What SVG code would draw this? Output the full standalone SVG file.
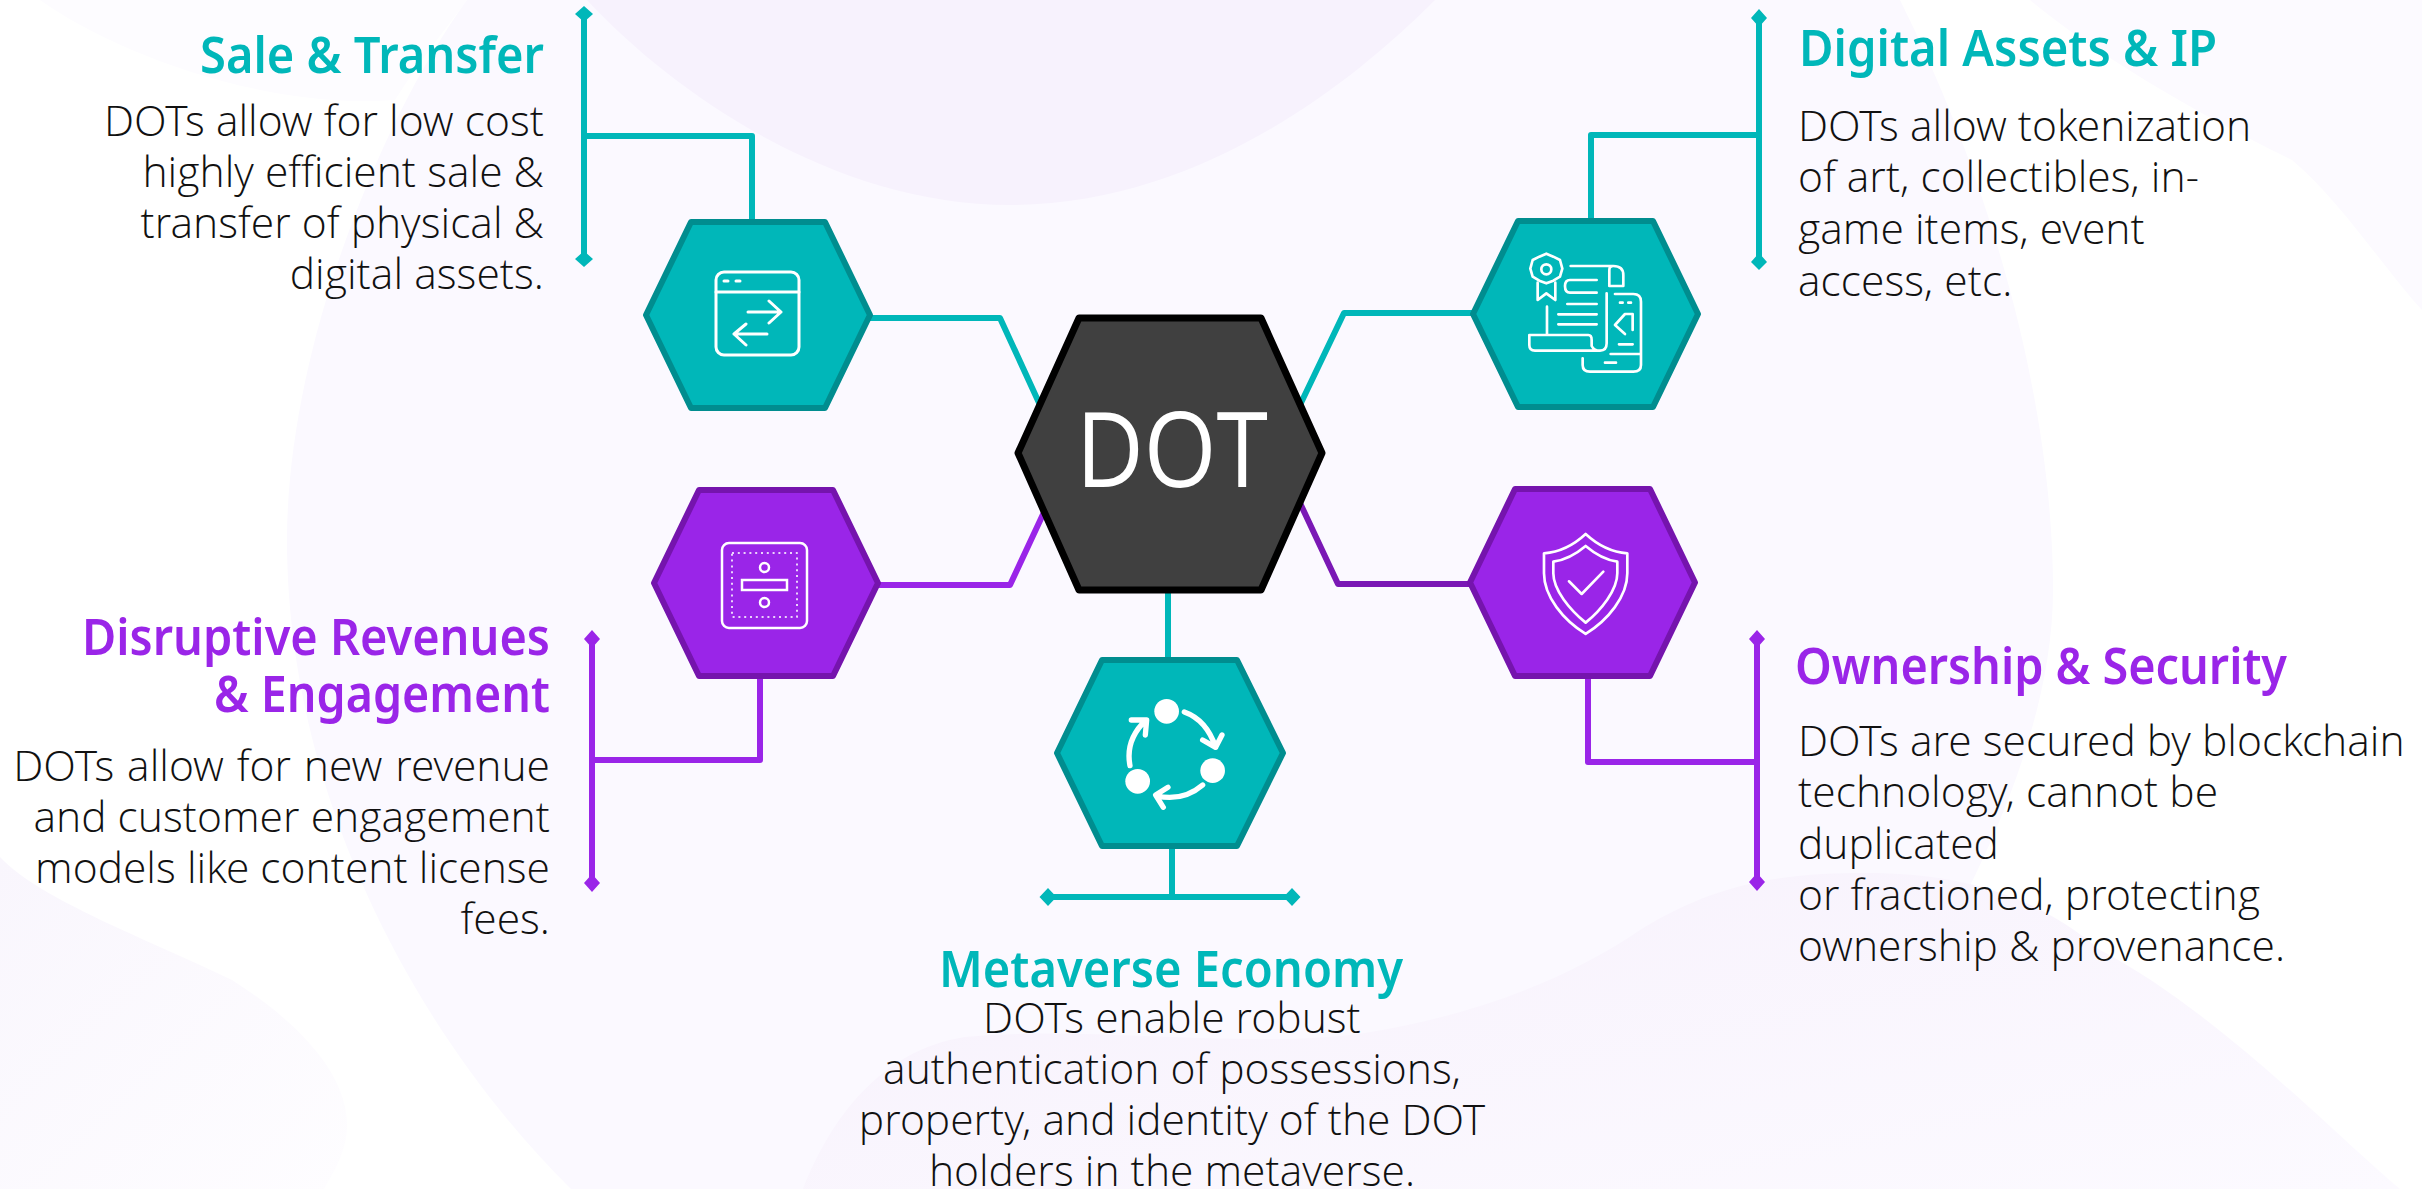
<svg xmlns="http://www.w3.org/2000/svg" width="2422" height="1189" viewBox="0 0 2422 1189">
<style>
.t{font-family:"Noto Sans","Open Sans",sans-serif;font-weight:600;font-size:50px}
.b{font-family:"Open Sans Light","Open Sans",sans-serif;font-weight:300;font-size:42.600px;fill:#111}
.teal{fill:#00b7b9}.purple{fill:#9a25e8}
.ht{fill:#00b7b9;stroke:#008d8f;stroke-width:6;stroke-linejoin:round}
.hp{fill:#9a25e8;stroke:#7514ad;stroke-width:6;stroke-linejoin:round}
.ct{fill:none;stroke:#00b7b9;stroke-width:6;stroke-linejoin:round}
.cp{fill:none;stroke:#9a25e8;stroke-width:6;stroke-linejoin:round}
.cd{fill:none;stroke:#7a18b5;stroke-width:6;stroke-linejoin:round}
.i{fill:none;stroke:#fff;stroke-width:3;stroke-linecap:round;stroke-linejoin:round}
.z{fill:none;stroke:#fff;stroke-width:8;stroke-linecap:round;stroke-linejoin:round}
.r{text-anchor:end}.m{text-anchor:middle}
</style>
<defs>
<linearGradient id="fa" x1="0" y1="0" x2="1" y2="1"><stop offset="0" stop-color="#f7f1fc"/><stop offset="1" stop-color="#fcfaff"/></linearGradient>
<linearGradient id="fb" x1="0" y1="0" x2="1" y2="1"><stop offset="0" stop-color="#f9f6fd"/><stop offset="1" stop-color="#fefdff"/></linearGradient>
</defs>
<rect width="2422" height="1189" fill="#fff"/>
<g id="background">
<path d="M40,0C110,50 260,110 395,100C420,60 445,30 467,0Z" fill="#fdfcff"/>
<path d="M2030,0C2090,50 2190,110 2292,160C2340,200 2385,270 2422,310V0Z" fill="#fcfaff"/>
<path d="M467,0C380,120 287,350 287,540C287,800 420,1040 571,1189H1767C1880,1060 2053,800 2053,590C2053,400 1990,180 1900,0Z" fill="#fbf9ff"/>
<path d="M587,0C680,100 840,205 1010,205C1190,205 1340,95 1435,0Z" fill="#f7f2fd"/>
<path d="M0,857C40,900 150,940 232,980C310,1030 347,1080 347,1125C347,1150 335,1170 324,1189H0Z" fill="url(#fb)"/>
<path d="M803,1189C830,1120 880,1050 965,1037C1080,1025 1250,1050 1365,1033C1460,1018 1560,985 1640,930C1720,880 1790,873 1867,873C1950,873 2030,890 2100,950C2215,1010 2330,1130 2400,1189Z" fill="url(#fa)"/>
</g>
<g id="connectors">
<path class="ct" d="M584,14V259M584,136H752V222"/>
<path class="ct" d="M868,318H1000L1040,405"/>
<path class="cp" d="M876,585H1010L1045,510"/>
<path class="cp" d="M592,638V883M592,760H760V676"/>
<path class="ct" d="M1759,18V262M1759,135H1591V221"/>
<path class="ct" d="M1473,313H1344L1300,405"/>
<path class="cd" d="M1470,584H1338L1300,503"/>
<path class="cp" d="M1757,638V882M1757,762H1588V676"/>
<path class="ct" d="M1168,590V660"/>
<path class="ct" d="M1172,846V897M1048,897H1292"/>
<path class="teal" d="M584,6l9,8l-9,8l-9,-8zM584,251l9,8l-9,8l-9,-8zM1759,9l8,9l-8,9l-8,-9zM1759,253l8,9l-8,8l-8,-8zM1048,888l8.500,9l-8.500,9l-8.500,-9zM1292,888l8.500,9l-8.500,9l-8.500,-9z"/>
<path class="purple" d="M592,630l8,9l-8,9l-8,-9zM592,874l8,9l-8,9l-8,-9zM1757,630l8,9l-8,9l-8,-9zM1757,873l8,9l-8,9l-8,-9z"/>
</g>
<g id="node-dot">
<polygon points="1018,453 1079,318 1261,318 1322,453 1261,590 1079,590" fill="#404040" stroke="#000" stroke-width="7" stroke-linejoin="round"/>
<text x="1172" y="487" class="m" fill="#fff" font-family="Open Sans,sans-serif" font-size="104" textLength="192" lengthAdjust="spacingAndGlyphs">DOT</text>
</g>
<g id="node-sale">
<polygon class="ht" points="646,315 691,222 825,222 870,315 825,408 691,408"/>
<g class="i"><rect x="716" y="272" width="83" height="83" rx="8"/><path d="M716,292H799M724,281h4M736,281h4M748,312H781M769,301L781,312L769,323M767,334H734M746,324L734,334L746,345"/></g>
<text class="t r teal" x="544" y="73" textLength="344" lengthAdjust="spacingAndGlyphs">Sale &amp; Transfer</text>
<text class="b r" x="544"><tspan x="544" y="136">DOTs allow for low cost</tspan><tspan x="544" y="187">highly efficient sale &amp;</tspan><tspan x="544" y="238">transfer of physical &amp;</tspan><tspan x="544" y="289">digital assets.</tspan></text>
</g>
<g id="node-revenue">
<polygon class="hp" points="654,583 699,490 833,490 878,583 833,676 699,676"/>
<g class="i"><rect x="722" y="543" width="85" height="85" rx="7" stroke-width="2.500"/><rect x="732" y="553" width="65" height="64" stroke-width="2" stroke-linecap="butt" stroke-dasharray="2 3.800" stroke-opacity=".8"/><circle cx="764.500" cy="567.500" r="4.500" stroke-width="2.500"/><circle cx="764.500" cy="602.500" r="4.500" stroke-width="2.500"/><rect x="742" y="580" width="45" height="10" stroke-linejoin="miter" stroke-width="2.500"/></g>
<text class="t r purple" x="550" y="655" textLength="468" lengthAdjust="spacingAndGlyphs">Disruptive Revenues</text>
<text class="t r purple" x="550" y="712" textLength="336" lengthAdjust="spacingAndGlyphs">&amp; Engagement</text>
<text class="b r" x="550"><tspan x="550" y="781" word-spacing="1.800">DOTs allow for new revenue</tspan><tspan x="550" y="832">and customer engagement</tspan><tspan x="550" y="883">models like content license</tspan><tspan x="550" y="934">fees.</tspan></text>
</g>
<g id="node-ip">
<polygon class="ht" points="1473,314 1518,221 1653,221 1698,314 1653,407 1518,407"/>
<g transform="translate(1450,190) scale(.3333)" class="z"><path d="M289,191L310,200L330,210L337,236L330,260L310,272L289,280L268,272L248,260L241,236L248,210L268,200Z"/><circle cx="289" cy="238" r="15"/><path d="M263,278V330L289,310L316,330V278M291,350V435M362,228H490Q520,228 520,255V288H478V240Q478,228 490,228M440,270H360Q345,270 345,288Q345,308 360,308H440M352,342H440M325,373H440M325,403H440M240,435H415Q425,435 425,450V468Q432,482 450,482Q470,482 470,460V310M250,435H238V465Q238,482 255,482H450M495,312H550Q573,312 573,335V525Q573,545 550,545H420Q398,545 398,525V505M482,492H573M465,518H498M507,463H548M510,338h8M535,338h8M548,372H525L495,405L525,432M548,372V420"/></g>
<text class="t teal" x="1799" y="66" textLength="418" lengthAdjust="spacingAndGlyphs">Digital Assets &amp; IP</text>
<text class="b" x="1798"><tspan x="1798" y="141">DOTs allow tokenization</tspan><tspan x="1798" y="192">of art, collectibles, in-</tspan><tspan x="1798" y="244">game items, event</tspan><tspan x="1798" y="296">access, etc.</tspan></text>
</g>
<g id="node-security">
<polygon class="hp" points="1470,582.500 1515,489 1650,489 1695,582.500 1650,676 1515,676"/>
<g transform="translate(1450,190) scale(.3333)" class="z"><path d="M407,1032Q350,1085 282,1090V1150C282,1220 340,1290 407,1332C474,1290 532,1220 532,1150V1090Q464,1085 407,1032Z"/><path d="M407,1068Q360,1108 310,1115V1150C310,1200 360,1260 407,1298C454,1260 502,1200 502,1150V1115Q454,1108 407,1068Z"/><path d="M357,1174L395,1212L460,1145"/></g>
<text class="t purple" x="1795" y="684" textLength="492" lengthAdjust="spacingAndGlyphs">Ownership &amp; Security</text>
<text class="b" x="1798"><tspan x="1798" y="756">DOTs are secured by blockchain</tspan><tspan x="1798" y="807">technology, cannot be</tspan><tspan x="1798" y="859">duplicated</tspan><tspan x="1798" y="910">or fractioned, protecting</tspan><tspan x="1798" y="961">ownership &amp; provenance.</tspan></text>
</g>
<g id="node-metaverse">
<polygon class="ht" points="1057,753 1102,660 1237,660 1283,753 1237,846 1102,846"/>
<g transform="translate(1040,640) scale(.3333)"><g fill="#fff"><circle cx="380" cy="214" r="37"/><circle cx="518" cy="392" r="37"/><circle cx="293" cy="424" r="37"/></g><path fill="none" stroke="#fff" stroke-width="16" stroke-linecap="round" stroke-linejoin="round" d="M433,216Q500,240 527,322M488,300L527,322L546,285M270,377Q255,300 318,240M274,240H320L316,285M488,435Q430,485 350,468M384,442L347,465L370,502"/></g>
<text class="t m teal" x="1171" y="987" textLength="464" lengthAdjust="spacingAndGlyphs">Metaverse Economy</text>
<text class="b m" x="1172"><tspan x="1172" y="1033">DOTs enable robust</tspan><tspan x="1172" y="1084">authentication of possessions,</tspan><tspan x="1172" y="1135">property, and identity of the DOT</tspan><tspan x="1172" y="1186">holders in the metaverse.</tspan></text>
</g>
</svg>
